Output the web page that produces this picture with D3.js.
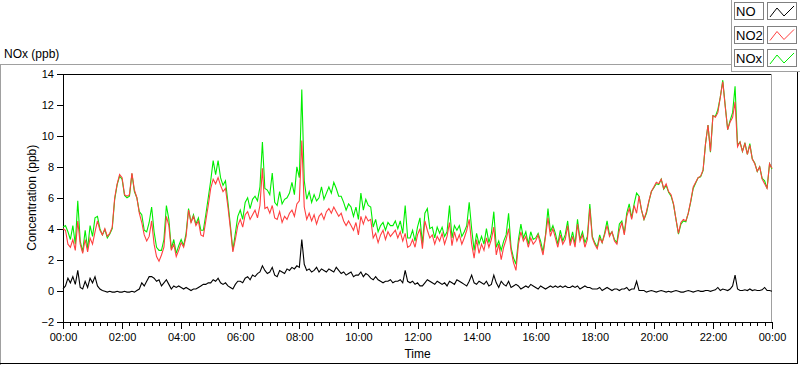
<!DOCTYPE html>
<html>
<head>
<meta charset="utf-8">
<script src="https://cdn.jsdelivr.net/npm/d3@7"></script>
<style>
  body { margin: 0; background: #fff; }
  text { font-family: "Liberation Sans", Arial, sans-serif; fill: #000; }
  .axis path, .axis line { stroke: #000; shape-rendering: crispEdges; }
  .axis text { font-size: 11px; }
</style>
</head>
<body>
<div id="chart"></div>
<script>
// NOx chart - 5 minute readings over one day
var svgWidth = 800;
var svgHeight = 365;

var margin = { top: 74, right: 28, bottom: 43.5, left: 63 };
var width = svgWidth - margin.left - margin.right;
var height = svgHeight - margin.top - margin.bottom;

var stepMinutes = 5;

// NO2 (ppb), one value every 5 minutes, 00:00 -> 24:00
var no2Values = [
  4.0,3.9,3.0,2.8,3.3,2.6,4.5,3.0,2.4,3.3,2.5,3.4,
  3.0,3.8,4.5,3.9,3.6,4.0,3.5,3.7,4.1,6.0,6.9,7.5,
  7.3,6.2,6.1,6.2,7.6,6.5,6.0,5.0,4.4,3.6,3.2,3.5,
  4.5,3.0,2.2,1.9,2.3,2.8,4.8,4.2,2.6,3.0,2.2,2.6,
  3.1,2.8,3.5,5.2,4.4,4.8,4.2,4.5,3.6,3.5,4.5,5.5,
  6.6,7.2,6.9,7.3,6.8,6.4,6.6,5.4,4.0,2.5,3.3,4.2,
  4.6,4.1,4.9,5.1,4.6,4.9,5.2,4.7,5.5,7.9,5.3,5.4,
  5.0,5.5,4.7,4.6,5.1,4.4,4.8,4.6,5.0,5.2,4.8,5.6,
  5.8,9.7,5.4,4.6,5.0,4.5,4.9,4.3,4.8,5.0,4.6,5.1,
  5.3,5.0,5.4,5.1,4.8,5.0,4.5,4.2,4.5,4.2,3.9,4.4,
  3.6,4.8,4.3,4.8,4.5,4.6,3.4,3.7,3.1,3.6,3.9,3.3,
  3.8,3.5,3.7,3.9,3.4,3.8,3.2,3.7,2.8,2.9,3.3,2.8,
  3.6,4.0,2.7,4.5,3.9,3.4,3.6,3.0,3.5,3.2,3.7,3.0,
  3.5,4.4,2.9,3.8,3.2,3.6,3.0,3.4,3.9,4.6,3.0,2.1,
  3.3,2.4,3.0,2.6,3.4,2.8,3.3,4.1,2.3,3.0,2.0,2.8,
  3.3,4.0,2.6,1.8,1.3,3.0,3.8,3.2,3.5,2.8,3.4,3.0,
  3.2,3.6,2.9,2.3,3.5,4.7,3.5,4.0,3.4,2.8,3.6,3.0,
  3.3,4.2,2.9,3.5,2.8,4.3,3.2,3.6,2.8,3.3,5.3,3.4,
  3.0,2.7,3.4,3.1,3.6,4.2,3.5,3.8,3.2,3.0,3.9,4.4,
  3.6,4.8,5.3,4.6,5.5,5.0,6.1,5.2,4.6,5.1,5.8,6.4,
  6.7,7.0,6.9,7.2,6.6,6.9,6.4,6.2,5.6,4.6,3.7,4.4,
  4.6,4.5,5.0,5.8,6.7,7.0,7.3,7.4,7.8,9.5,10.7,9.0,
  11.3,11.2,11.5,12.5,13.5,11.9,10.4,10.9,11.2,12.2,9.3,9.6,
  9.0,9.5,8.8,9.4,8.5,8.2,7.7,8.0,7.2,6.9,6.6,8.2,
  7.9
];

// NO (ppb)
var noValues = [
  0.1,0.3,0.8,0.5,0.9,0.4,1.3,0.2,0.1,0.6,0.2,0.8,
  0.5,0.9,0.3,0.1,0.0,-0.05,-0.1,-0.05,-0.1,-0.1,-0.05,-0.1,
  -0.1,-0.05,-0.1,-0.1,-0.05,-0.1,0.0,0.1,0.5,0.3,0.6,0.9,
  0.9,0.8,0.6,0.7,0.3,0.5,0.7,0.4,0.1,0.3,0.2,0.3,
  0.2,0.1,0.2,0.1,0.0,0.1,0.1,0.2,0.3,0.4,0.4,0.5,
  0.5,0.7,0.6,0.8,0.5,0.4,0.5,0.3,0.2,0.1,0.4,0.6,
  0.6,0.5,0.8,0.9,0.7,1.0,0.9,1.1,1.2,1.6,1.3,1.1,
  1.2,1.5,1.0,0.9,1.3,1.2,1.1,1.4,1.3,1.5,1.4,1.6,
  1.5,3.3,1.7,1.3,1.4,1.2,1.3,1.5,1.2,1.4,1.3,1.2,
  1.4,1.3,1.2,1.5,1.3,1.1,1.2,1.0,1.1,1.2,0.9,1.0,
  1.0,1.2,0.9,1.1,1.0,0.8,0.7,0.9,0.7,0.6,0.5,0.6,
  0.6,0.7,0.5,0.6,0.6,0.7,0.5,1.3,0.6,0.5,0.6,0.4,
  0.5,0.3,0.3,0.5,0.7,0.6,0.5,0.4,0.6,0.5,0.4,0.5,
  0.3,0.6,0.5,0.4,0.7,0.6,0.5,0.4,0.3,0.6,1.0,0.5,
  0.4,0.6,0.5,0.4,0.6,0.3,0.4,1.0,0.5,0.2,0.6,0.4,
  0.3,0.6,0.2,0.3,0.4,0.3,0.1,0.2,0.3,0.2,0.4,0.3,
  0.2,0.1,0.3,0.2,0.1,0.2,0.3,0.2,0.3,0.2,0.3,0.2,
  0.3,0.2,0.2,0.3,0.2,0.3,0.1,0.2,0.3,0.2,0.2,0.1,
  0.1,0.1,0.2,0.0,0.1,0.2,0.1,0.0,0.1,0.1,0.0,0.1,
  0.1,0.2,0.0,0.1,0.1,0.6,0.0,0.0,0.0,-0.1,-0.05,0.0,
  -0.05,-0.1,-0.05,0.0,-0.05,-0.1,-0.05,-0.1,-0.05,0.0,-0.05,-0.1,
  -0.1,-0.05,0.0,-0.05,-0.1,-0.05,0.0,-0.05,-0.05,0.0,0.0,-0.05,
  0.0,0.05,0.2,0.0,0.1,0.05,0.0,0.1,0.3,1.0,0.1,0.0,
  0.0,0.05,0.0,0.1,0.0,0.05,0.0,0.0,0.05,0.2,0.0,0.0,
  -0.05
];

// NOx (ppb)
var noxValues = [
  4.1,4.2,3.8,3.3,4.2,3.0,5.8,3.2,2.5,3.9,2.7,4.2,
  3.5,4.7,4.8,4.0,3.6,3.95,3.4,3.65,4.0,5.9,6.85,7.4,
  7.2,6.15,6.0,6.1,7.55,6.4,6.0,5.1,4.9,3.9,3.8,4.4,
  5.4,3.8,2.8,2.6,2.6,3.3,5.5,4.6,2.7,3.3,2.4,2.9,
  3.3,2.9,3.7,5.3,4.4,4.9,4.3,4.7,3.9,3.9,4.9,6.0,
  7.1,8.4,7.5,8.4,7.3,6.8,7.1,5.7,4.2,2.6,3.7,4.8,
  5.2,4.6,5.7,6.0,5.3,5.9,6.1,5.8,6.7,9.6,6.6,6.5,
  6.2,7.6,5.7,5.5,6.4,5.6,5.9,6.0,6.3,7.0,6.2,8.0,
  7.3,13.0,7.1,5.9,6.4,5.7,6.2,5.8,6.0,6.7,5.9,6.3,
  6.7,6.3,7.0,6.6,6.1,6.1,5.7,5.2,5.6,5.4,4.8,5.4,
  4.6,6.3,5.2,5.9,5.5,5.4,4.1,4.6,3.8,4.2,4.4,3.9,
  4.4,4.2,4.2,4.5,4.0,4.5,3.7,5.5,3.4,3.4,3.9,3.2,
  4.1,4.7,3.0,5.0,5.3,4.0,4.1,3.4,4.1,3.7,4.1,3.5,
  3.8,5.5,3.4,4.2,3.9,4.2,3.5,3.8,4.2,5.7,4.0,2.6,
  3.7,3.0,3.5,3.0,4.0,3.1,3.7,5.1,2.8,3.2,2.6,3.2,
  3.6,5.0,2.8,2.1,1.7,3.3,4.3,3.4,3.8,3.0,3.8,3.3,
  3.4,3.7,3.2,2.5,3.6,5.3,3.8,4.2,3.7,3.0,3.9,3.2,
  3.6,4.5,3.1,3.8,3.0,4.6,3.3,3.8,3.1,3.5,5.6,3.5,
  3.1,2.8,3.6,3.1,3.7,4.5,3.6,3.8,3.3,3.1,4.3,4.5,
  3.7,5.0,5.6,4.7,5.6,6.3,6.1,5.2,4.6,5.0,5.75,6.4,
  6.65,6.9,6.85,7.2,6.55,6.8,6.35,6.1,5.55,4.6,3.65,4.3,
  4.5,4.45,5.0,5.75,6.6,6.95,7.3,7.35,7.75,9.5,10.7,8.95,
  11.3,11.25,11.7,12.5,13.6,11.95,10.4,11.0,11.5,13.2,9.4,9.6,
  9.0,9.55,8.8,9.5,8.5,8.25,7.7,8.0,7.25,7.1,6.6,8.2,
  7.85
];

var seriesNames = ["NO", "NO2", "NOx"];
var seriesColors = ["#000000", "#ff4040", "#00ee00"];
var yTicks = [-2, 0, 2, 4, 6, 8, 10, 12, 14];
var xTickMinutes = d3.range(0, 1441, 120);

var svg = d3.select("#chart")
    .append("svg")
    .attr("width", svgWidth)
    .attr("height", svgHeight);

// panel frame (LabVIEW style)
var frame = svg.append("g").attr("shape-rendering", "crispEdges");
frame.append("line").attr("x1", 0).attr("x2", 731).attr("y1", 64.5).attr("y2", 64.5).attr("stroke", "#a0a0a0");
frame.append("line").attr("x1", 0.5).attr("x2", 0.5).attr("y1", 64).attr("y2", 365).attr("stroke", "#a0a0a0");
frame.append("line").attr("x1", 0).attr("x2", 798).attr("y1", 363.5).attr("y2", 363.5).attr("stroke", "#000");
frame.append("line").attr("x1", 797.5).attr("x2", 797.5).attr("y1", 72).attr("y2", 364).attr("stroke", "#000");

svg.append("text")
    .attr("x", 4)
    .attr("y", 58)
    .attr("font-size", "12px")
    .text("NOx (ppb)");

var chartGroup = svg.append("g")
    .attr("transform", `translate(${margin.left}, ${margin.top})`);

var xScale = d3.scaleLinear().domain([0, 1440]).range([0, width]);
var yScale = d3.scaleLinear().domain([-2, 14]).range([height, 0]);

// plot border: top dark, right light
chartGroup.append("line")
    .attr("x1", 0).attr("x2", width).attr("y1", 0.5).attr("y2", 0.5)
    .attr("stroke", "#000").attr("shape-rendering", "crispEdges");
chartGroup.append("line")
    .attr("x1", width - 0.5).attr("x2", width - 0.5).attr("y1", 0).attr("y2", height)
    .attr("stroke", "#a0a0a0").attr("shape-rendering", "crispEdges");

function fmtTime(m) {
    var h = Math.floor(m / 60) % 24;
    return (h < 10 ? "0" : "") + h + ":00";
}

var minorAxis = d3.axisBottom(xScale)
    .tickValues(d3.range(0, 1441, 15))
    .tickSize(4)
    .tickFormat("");
chartGroup.append("g")
    .attr("class", "axis")
    .attr("transform", `translate(0, ${height})`)
    .call(minorAxis);

var bottomAxis = d3.axisBottom(xScale)
    .tickValues(xTickMinutes)
    .tickSize(7)
    .tickPadding(5)
    .tickFormat(fmtTime);
chartGroup.append("g")
    .attr("class", "axis")
    .attr("transform", `translate(0, ${height})`)
    .call(bottomAxis);

var leftAxis = d3.axisLeft(yScale)
    .tickValues(yTicks)
    .tickSize(6)
    .tickPadding(3)
    .tickFormat(d3.format("d"));
chartGroup.append("g")
    .attr("class", "axis")
    .call(leftAxis);

chartGroup.append("text")
    .attr("x", width / 2)
    .attr("y", height + 36)
    .attr("text-anchor", "middle")
    .attr("font-size", "12px")
    .text("Time");

chartGroup.append("text")
    .attr("transform", "rotate(-90)")
    .attr("x", -height / 2)
    .attr("y", -31)
    .attr("dy", "0.35em")
    .attr("text-anchor", "middle")
    .attr("font-size", "12px")
    .text("Concentration (ppb)");

// lines: NOx underneath, NO2 on top, NO at the bottom of the plot
var line = d3.line()
    .x((d, i) => xScale(i * stepMinutes))
    .y(d => yScale(d));

var plotData = [
    { values: noxValues, color: seriesColors[2] },
    { values: no2Values, color: seriesColors[1] },
    { values: noValues, color: seriesColors[0] }
];

chartGroup.selectAll(".series")
    .data(plotData)
    .enter()
    .append("path")
    .attr("class", "series")
    .attr("fill", "none")
    .attr("stroke", d => d.color)
    .attr("stroke-width", 1.1)
    .attr("stroke-linejoin", "miter")
    .attr("d", d => line(d.values));

// legend, top right
var legend = svg.append("g").attr("shape-rendering", "crispEdges");
legend.append("line").attr("x1", 731.5).attr("x2", 731.5).attr("y1", 0).attr("y2", 72).attr("stroke", "#a0a0a0");
legend.append("line").attr("x1", 731).attr("x2", 800).attr("y1", 71.5).attr("y2", 71.5).attr("stroke", "#a0a0a0");

var legendRows = legend.selectAll(".row")
    .data(seriesNames)
    .enter()
    .append("g")
    .attr("class", "row")
    .attr("transform", (d, i) => `translate(0, ${2 + i * 23.5})`);

legendRows.append("rect")
    .attr("x", 734.5).attr("y", 0.5)
    .attr("width", 29).attr("height", 17)
    .attr("fill", "#fff").attr("stroke", "#808080");

legendRows.append("text")
    .attr("x", 736)
    .attr("y", 14)
    .attr("font-size", "13px")
    .text(d => d);

legendRows.append("rect")
    .attr("x", 767.5).attr("y", 0.5)
    .attr("width", 29).attr("height", 17)
    .attr("fill", "#fff").attr("stroke", "#808080");

legendRows.append("polyline")
    .attr("points", "770,15 777,6 784,14 794,4")
    .attr("fill", "none")
    .attr("shape-rendering", "auto")
    .attr("stroke", (d, i) => seriesColors[i]);
</script>
</body>
</html>
